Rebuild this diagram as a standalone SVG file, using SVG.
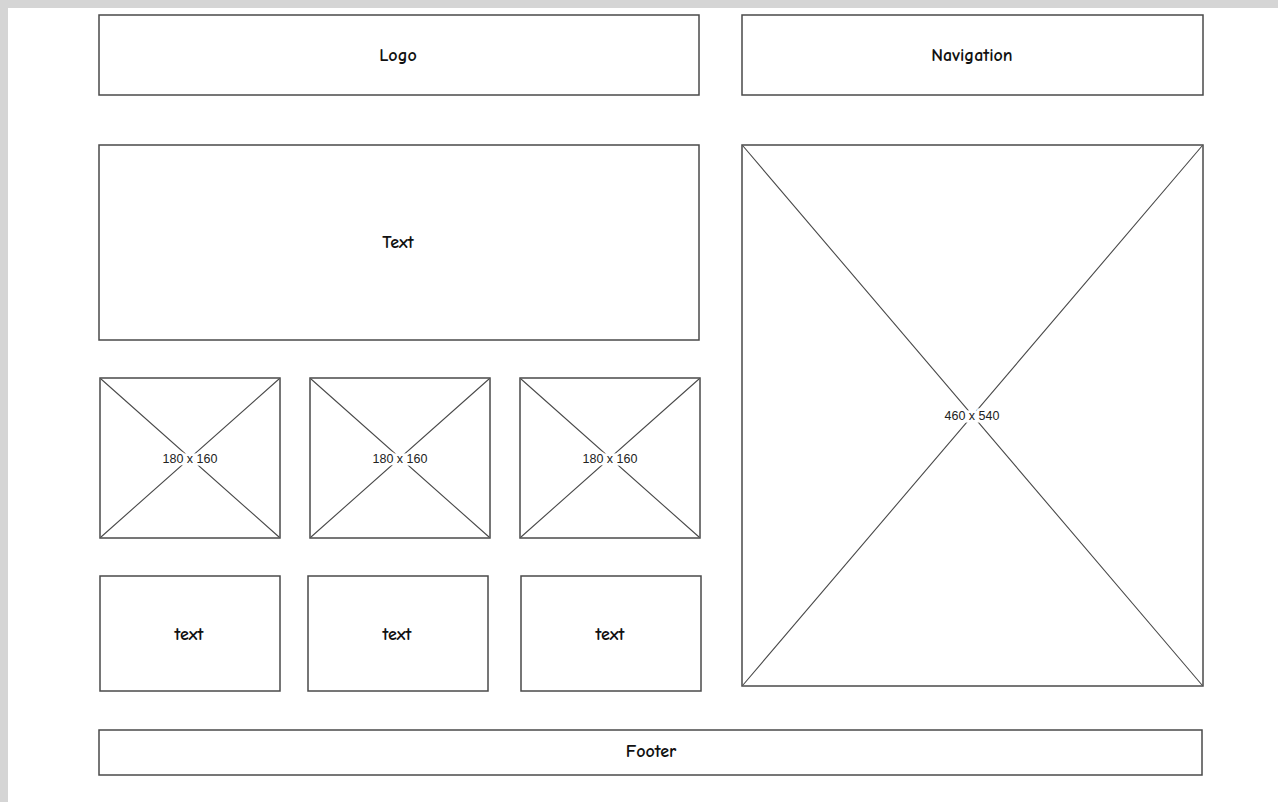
<svg xmlns="http://www.w3.org/2000/svg" width="1278" height="802" viewBox="0 0 1278 802">
<style>
.box{fill:#fff;stroke:#4a4a4a;stroke-width:1.5}
.x{stroke:#4a4a4a;stroke-width:1.1;fill:none}
.lbl{font-family:"Comic Sans MS","Comic Neue","Liberation Sans",sans-serif;font-size:18px;font-weight:bold;fill:#111;text-anchor:middle;dominant-baseline:central}
.dim{font-family:"Liberation Sans",sans-serif;font-size:12.5px;fill:#222;text-anchor:middle;dominant-baseline:central;stroke:#fff;stroke-width:5;paint-order:stroke}
</style>
<rect x="0" y="0" width="1278" height="802" fill="#d5d5d5"/>
<rect x="8" y="8" width="1270" height="794" fill="#fff"/>
<g id="logo"><rect class="box" x="99" y="15" width="600" height="80"/><text class="lbl" x="398" y="55">Logo</text></g>
<g id="navigation"><rect class="box" x="742" y="15" width="461" height="80"/><text class="lbl" x="972" y="55">Navigation</text></g>
<g id="text-main"><rect class="box" x="99" y="145" width="600" height="195"/><text class="lbl" x="398" y="242">Text</text></g>
<g id="image-large"><rect class="box" x="742" y="145" width="461" height="541"/><path class="x" d="M743 146L1202 685M1202 146L743 685"/><text class="dim" x="972" y="416">460 x 540</text></g>
<g id="image-1"><rect class="box" x="100" y="378" width="180" height="160"/><path class="x" d="M101 379L279 537M279 379L101 537"/><text class="dim" x="190" y="459">180 x 160</text></g>
<g id="image-2"><rect class="box" x="310" y="378" width="180" height="160"/><path class="x" d="M311 379L489 537M489 379L311 537"/><text class="dim" x="400" y="459">180 x 160</text></g>
<g id="image-3"><rect class="box" x="520" y="378" width="180" height="160"/><path class="x" d="M521 379L699 537M699 379L521 537"/><text class="dim" x="610" y="459">180 x 160</text></g>
<g id="text-1"><rect class="box" x="100" y="576" width="180" height="115"/><text class="lbl" x="189" y="634">text</text></g>
<g id="text-2"><rect class="box" x="308" y="576" width="180" height="115"/><text class="lbl" x="397" y="634">text</text></g>
<g id="text-3"><rect class="box" x="521" y="576" width="180" height="115"/><text class="lbl" x="610" y="634">text</text></g>
<g id="footer"><rect class="box" x="99" y="730" width="1103" height="45"/><text class="lbl" x="651" y="751">Footer</text></g>
<g id="connectors"/>
</svg>
